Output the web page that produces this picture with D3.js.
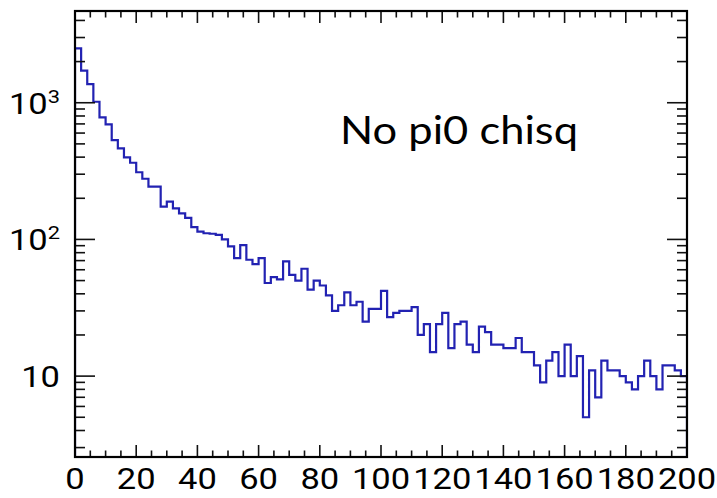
<!DOCTYPE html>
<html>
<head>
<meta charset="utf-8">
<script src="https://cdn.jsdelivr.net/npm/d3@7"></script>
<style>
  html, body { margin: 0; padding: 0; background: #fff; }
  svg { display: block; }
  .lbl { font-family: Roboto, "Noto Sans", sans-serif; }
  .note { font-family: Lato, "Open Sans", sans-serif; }
</style>
</head>
<body>
<svg id="chart" width="717" height="498"></svg>
<script>
// Histogram of chi-square without the pi0 constraint: 100 bins of width 2 over [0, 200]
const xRange = [0, 200];
const binWidth = 2;
const counts = [
  2500, 1715, 1370, 1017, 782, 695, 533, 464, 399, 364,
  310, 278, 243, 243, 174, 189, 169, 155, 144, 123,
  114, 111, 110, 108, 100, 89, 73, 91, 71, 66,
  73, 48, 53, 51, 69, 55, 50, 61, 43, 50,
  46, 39, 30, 33, 41, 33, 35, 25, 31, 31,
  42, 27, 29, 30, 30, 32, 20, 24, 15, 24,
  29, 16, 24, 25, 17, 15, 23, 21, 17, 17,
  16, 16, 19, 15, 15, 12, 9, 13, 15, 10,
  17, 10, 14, 5, 11, 7, 13, 11, 11, 10,
  9, 8, 10, 13, 10, 8, 12, 12, 11, 10
];
const yRange = [2.56, 4690];
const xTickLabels = ["0", "20", "40", "60", "80", "100", "120", "140", "160", "180", "200"];
const yTickLabels = [{ v: 10, base: "10", exp: "" }, { v: 100, base: "10", exp: "2" }, { v: 1000, base: "10", exp: "3" }];
const title = "No pi0 chisq";

const frame = { left: 75, right: 687, top: 11, bottom: 457 };
const svg = d3.select("#chart");

const x = d3.scaleLinear().domain(xRange).range([frame.left, frame.right]);
const y = d3.scaleLog().domain(yRange).range([frame.bottom, frame.top]);

// step outline, dropping to the frame floor at both ends
const pts = [[xRange[0], yRange[0]]];
counts.forEach((c, i) => {
  const lo = xRange[0] + i * binWidth;
  pts.push([lo, c], [lo + binWidth, c]);
});
pts.push([xRange[1], yRange[0]]);

svg.append("clipPath").attr("id", "plotclip")
  .append("rect")
  .attr("x", frame.left).attr("y", frame.top)
  .attr("width", frame.right - frame.left).attr("height", frame.bottom - frame.top);

svg.append("path")
  .attr("clip-path", "url(#plotclip)")
  .attr("d", d3.line().x(d => x(d[0])).y(d => y(d[1]))(pts))
  .attr("fill", "none")
  .attr("stroke", "#2222b2")
  .attr("stroke-width", 2.2)
  .attr("stroke-linejoin", "miter");

// ticks on all four sides
const g = svg.append("g").attr("stroke", "#111").attr("stroke-width", 1.6);
d3.range(0, 201, 5).forEach(v => {
  const len = v % 20 === 0 ? 12 : 6.5;
  g.append("line").attr("x1", x(v)).attr("x2", x(v)).attr("y1", frame.bottom).attr("y2", frame.bottom - len);
  g.append("line").attr("x1", x(v)).attr("x2", x(v)).attr("y1", frame.top).attr("y2", frame.top + len);
});
const yTicks = [];
[1, 10, 100, 1000].forEach(dec => {
  for (let m = 1; m <= 9; m++) {
    const v = m * dec;
    if (v >= yRange[0] && v <= yRange[1]) yTicks.push({ v, major: m === 1 });
  }
});
yTicks.forEach(t => {
  const len = t.major ? 20 : 10;
  g.append("line").attr("x1", frame.left).attr("x2", frame.left + len).attr("y1", y(t.v)).attr("y2", y(t.v));
  g.append("line").attr("x1", frame.right).attr("x2", frame.right - len).attr("y1", y(t.v)).attr("y2", y(t.v));
});

// frame
svg.append("rect")
  .attr("x", frame.left).attr("y", frame.top)
  .attr("width", frame.right - frame.left).attr("height", frame.bottom - frame.top)
  .attr("fill", "none").attr("stroke", "#000").attr("stroke-width", 2.2);

// x labels
xTickLabels.forEach(s => {
  svg.append("text")
    .attr("class", "lbl")
    .attr("transform", `translate(${x(+s)},489) scale(1.15,1)`)
    .attr("text-anchor", "middle")
    .attr("font-size", 30)
    .attr("fill", "#000")
    .text(s);
});

// y labels
yTickLabels.forEach(t => {
  const txt = svg.append("text")
    .attr("class", "lbl")
    .attr("transform", `translate(60,${y(t.v) + 11}) scale(1.15,1)`)
    .attr("text-anchor", "end")
    .attr("font-size", 30)
    .attr("fill", "#000");
  txt.append("tspan").text(t.base);
  if (t.exp) {
    txt.append("tspan").attr("font-size", 19).attr("dy", -11).text(t.exp);
  }
});

// annotation
svg.append("text")
  .attr("class", "note")
  .attr("x", 340).attr("y", 144)
  .attr("font-size", 38)
  .attr("textLength", 238)
  .attr("lengthAdjust", "spacingAndGlyphs")
  .attr("fill", "#000")
  .text(title);
</script>
</body>
</html>
